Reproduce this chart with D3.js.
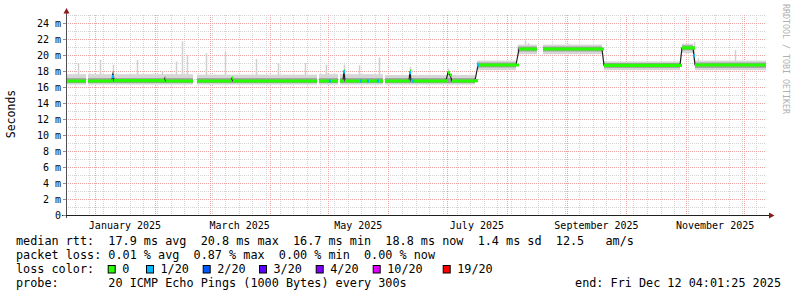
<!DOCTYPE html>
<html><head><meta charset="utf-8">
<script src="https://cdn.jsdelivr.net/npm/d3@7"></script>
<style>
body{margin:0;background:#fff}
svg{display:block}
text{font-family:"DejaVu Sans Mono",monospace;white-space:pre}
</style>
</head><body>
<svg id="c" width="797" height="297"></svg>
<script>
// ---------------- data ----------------
const startTime = "2024-12-17T04:01:25Z";
const endTime   = "2025-12-12T04:01:25Z";
const yTicks = [0,2,4,6,8,10,12,14,16,18,20,22,24];
const yTickLabels = ["0","2 m","4 m","6 m","8 m","10 m","12 m","14 m","16 m","18 m","20 m","22 m","24 m"];
const monthLabels = ["January 2025","March 2025","May 2025","July 2025","September 2025","November 2025"];
const monthLabelMonths = ["2025-01-01","2025-03-01","2025-05-01","2025-07-01","2025-09-01","2025-11-01"];

// median rtt (ms) ; null marks a gap in the data
const medianPts = [
 ["2024-12-17T04:01",16.75],["2024-12-27T11:00",16.75],["2024-12-27T23:00",null],
 ["2024-12-28T11:30",16.75],["2025-01-09T20:00",16.8],["2025-01-10T08:00",17.8],["2025-01-10T20:30",16.8],
 ["2025-02-05T13:00",16.75],["2025-02-06T01:00",17.1],["2025-02-06T13:40",16.75],["2025-02-20T11:30",16.75],
 ["2025-02-21T12:00",null],
 ["2025-02-22T13:00",16.75],["2025-03-11T23:00",16.75],["2025-03-12T13:00",17.1],["2025-03-13T01:00",16.75],
 ["2025-04-25T06:00",16.75],["2025-04-25T18:00",null],
 ["2025-04-26T07:00",16.75],["2025-05-06T01:30",16.75],["2025-05-06T14:00",null],
 ["2025-05-07T02:00",16.75],["2025-05-08T15:00",16.75],["2025-05-09T03:00",18.0],["2025-05-09T15:50",16.75],
 ["2025-05-29T04:45",16.75],["2025-05-29T17:00",null],
 ["2025-05-30T05:30",16.75],["2025-06-11T13:40",16.75],["2025-06-12T02:00",18.0],["2025-06-12T14:20",16.75],
 ["2025-06-30T14:20",16.8],["2025-07-01T15:00",17.8],["2025-07-02T15:50",17.5],["2025-07-03T16:20",16.75],
 ["2025-07-15T12:10",16.8],["2025-07-17T01:30",18.75],["2025-08-05T14:20",18.75],["2025-08-07T03:20",20.75],
 ["2025-08-16T09:30",20.75],["2025-08-17T22:00",null],
 ["2025-08-19T11:30",20.75],["2025-09-18T19:50",20.75],["2025-09-19T20:30",18.7],
 ["2025-10-28T22:30",18.7],["2025-10-29T23:10",20.9],["2025-11-04T15:00",20.9],["2025-11-05T15:50",18.75],
 ["2025-12-12T04:01",18.75]
];

// smoke bands: [start, end, outerLo, outerHi, innerLo, innerHi] (ms)
const smokeBands = [
 ["2024-12-17T04:01","2024-12-27T11:00",16.3,17.6,16.5,17.1],
 ["2024-12-28T11:30","2025-02-20T11:30",16.3,17.6,16.5,17.1],
 ["2025-02-22T13:00","2025-04-25T06:00",16.3,17.55,16.5,17.1],
 ["2025-04-26T07:00","2025-05-06T01:30",16.3,17.6,16.5,17.1],
 ["2025-05-07T02:00","2025-05-29T04:45",16.3,17.6,16.5,17.1],
 ["2025-05-30T05:30","2025-07-15T12:10",16.3,17.5,16.5,17.1],
 ["2025-07-16T12:00","2025-08-05T14:20",18.1,19.3,18.45,19.05],
 ["2025-08-06T12:00","2025-08-16T09:30",20.1,21.3,20.45,21.05],
 ["2025-08-19T11:30","2025-09-18T19:50",20.1,21.3,20.45,21.05],
 ["2025-09-19T20:30","2025-10-28T22:30",18.1,19.2,18.4,19.0],
 ["2025-10-29T23:10","2025-11-04T15:00",20.25,21.4,20.6,21.2],
 ["2025-11-05T15:50","2025-12-12T04:01",18.1,19.3,18.4,19.05]
];

// isolated smoke spikes: [date, base (ms), top (ms)]
const spikes = [
 ["2024-12-23T03:00",17.5,19.0],["2025-01-03T12:00",17.5,19.4],["2025-01-10T08:00",17.5,18.8],["2025-01-22T12:00",17.5,19.4],
 ["2025-02-04T12:00",17.5,18.0],["2025-02-11T12:00",17.5,19.2],["2025-02-14T16:00",17.5,21.7],["2025-02-17T12:00",17.5,20.0],
 ["2025-02-27T00:00",17.5,20.2],["2025-03-09T00:00",17.5,20.4],["2025-03-25T00:00",17.5,19.5],["2025-04-05T00:00",17.5,19.0],
 ["2025-04-19T00:00",17.5,19.0],["2025-04-30T00:00",17.5,18.8],["2025-05-09T03:00",17.5,18.8],["2025-05-17T00:00",17.5,18.7],
 ["2025-05-27T00:00",17.5,19.7],["2025-06-12T02:00",17.5,18.5],["2025-07-01T15:00",17.5,18.3],
 ["2025-08-10T00:00",21.2,21.8],["2025-08-12T00:00",21.2,21.5],["2025-09-02T00:00",21.2,21.4],
 ["2025-11-05T03:00",19.2,21.6],["2025-11-07T00:00",19.2,19.6],["2025-11-26T04:00",19.2,20.6]
];

// packet-loss coloured points: [date, value(ms), loss level index]
const lossPts = [
 ["2025-01-10T08:00",17.3,1],["2025-05-01T21:00",16.75,1],["2025-05-09T03:00",17.9,1],
 ["2025-05-17T21:00",16.75,1],["2025-05-21T11:00",16.75,1],["2025-05-26T16:00",16.75,1],
 ["2025-06-12T02:00",17.8,1],["2025-06-13T16:00",16.75,1],["2025-07-17T01:30",18.75,1],
 ["2025-11-05T03:00",19.9,1]
];

const lossLabels = ["0","1/20","2/20","3/20","4/20","10/20","19/20"];
const lossColors = ["#26ff00","#00b8ff","#0059ff","#5e00ff","#7e00ff","#dd00ff","#ff0000"];

const statsLine1 = "median rtt:  17.9 ms avg  20.8 ms max  16.7 ms min  18.8 ms now  1.4 ms sd  12.5   am/s";
const statsLine2 = "packet loss: 0.01 % avg  0.87 % max  0.00 % min  0.00 % now";
const probeLine  = "probe:       20 ICMP Echo Pings (1000 Bytes) every 300s";
const endLine    = "end: Fri Dec 12 04:01:25 2025";

// ---------------- drawing ----------------
const P = s => new Date(s.length <= 10 ? s + "T00:00:00Z" : (s.endsWith("Z") ? s : s + "Z"));
const svg = d3.select("#c");
const X0 = 66, X1 = 766, YB = 215, YT = 15;
const x = d3.scaleUtc().domain([P(startTime), P(endTime)]).range([X0, X1]);
const y = d3.scaleLinear().domain([0, 25]).range([YB, YT]);

// grid
const grid = svg.append("g");
const minorH = d3.range(1, 26).filter(v => v % 2 === 1 || v > 24);
minorH.forEach(v => grid.append("line").attr("x1", X0).attr("x2", X1)
  .attr("y1", y(v) + 0.5).attr("y2", y(v) + 0.5)
  .attr("stroke", "#d2d2d2").attr("stroke-dasharray", "1,1"));
const weeks = d3.utcSunday.range(P(startTime), P(endTime));
weeks.forEach(d => grid.append("line").attr("x1", Math.round(x(d)) + 0.5).attr("x2", Math.round(x(d)) + 0.5)
  .attr("y1", YT).attr("y2", YB).attr("stroke", "#d2d2d2").attr("stroke-dasharray", "1,1"));
yTicks.filter(v => v > 0).forEach(v => grid.append("line").attr("x1", X0).attr("x2", X1)
  .attr("y1", y(v) + 0.5).attr("y2", y(v) + 0.5)
  .attr("stroke", "#eaa4a4").attr("stroke-dasharray", "1,1"));
const months = d3.utcMonth.range(P(startTime), P(endTime));
months.forEach(d => grid.append("line").attr("x1", Math.round(x(d)) + 0.5).attr("x2", Math.round(x(d)) + 0.5)
  .attr("y1", YT).attr("y2", YB).attr("stroke", "#eaa4a4").attr("stroke-dasharray", "1,1"));

// smoke
const sm = svg.append("g");
spikes.forEach(s => {
  const xs = Math.round(x(P(s[0])));
  sm.append("rect").attr("x", xs - 0.25).attr("width", 1.5).attr("y", y(s[2])).attr("height", y(s[1]) - y(s[2]))
    .attr("fill", "#d0d0d0");
});
smokeBands.forEach(b => {
  const xa = x(P(b[0])), xb = x(P(b[1]));
  sm.append("rect").attr("x", xa).attr("width", xb - xa).attr("y", y(b[3])).attr("height", y(b[2]) - y(b[3])).attr("fill", "#d6d6d6");
  sm.append("rect").attr("x", xa).attr("width", xb - xa).attr("y", y(b[5])).attr("height", y(b[4]) - y(b[5])).attr("fill", "#9c9c9c");
});

// median line
const med = medianPts.map(d => ({t: P(d[0]), v: d[1]}));
const line = d3.line().defined(d => d.v != null).x(d => x(d.t)).y(d => y(d.v));
svg.append("path").attr("d", line(med)).attr("fill", "none").attr("stroke", "#202020").attr("stroke-width", 1.2);
const band = d3.area().defined(d => d.v != null).curve(d3.curveStepAfter)
  .x(d => x(d.t)).y0(d => y(d.v) + 1.6).y1(d => y(d.v) - 1.6);
svg.append("path").attr("d", band(med)).attr("fill", lossColors[0]);
lossPts.forEach(p => svg.append("rect").attr("x", x(P(p[0])) - 1).attr("width", 2)
  .attr("y", y(p[1]) - 1.6).attr("height", 3.2).attr("fill", lossColors[p[2]]));

// axes
const ax = svg.append("g");
ax.append("line").attr("x1", X0 + 0.5).attr("x2", X0 + 0.5).attr("y1", YB + 3).attr("y2", 11).attr("stroke", "#505050");
ax.append("path").attr("d", `M${X0 - 2.5},13.5 L${X0 + 3.5},13.5 L${X0 + 0.5},8 Z`).attr("fill", "#8b1a1a");
ax.append("line").attr("x1", X0 - 4).attr("x2", 770).attr("y1", YB + 0.5).attr("y2", YB + 0.5).attr("stroke", "#202020");
ax.append("path").attr("d", `M769,${YB - 2.5} L769,${YB + 3.5} L774.5,${YB + 0.5} Z`).attr("fill", "#8b1a1a");
yTicks.forEach((v, i) => {
  ax.append("line").attr("x1", X0 - 3).attr("x2", X0).attr("y1", y(v) + 0.5).attr("y2", y(v) + 0.5).attr("stroke", "#909090");
  ax.append("text").attr("x", 61).attr("y", y(v) + 3.8).attr("text-anchor", "end")
    .attr("font-size", "10px").attr("fill", "#000").text(yTickLabels[i]);
});
monthLabelMonths.forEach((m, i) => {
  const a = P(m), b = d3.utcMonth.offset(a, 1);
  ax.append("text").attr("x", (x(a) + x(b)) / 2).attr("y", 228.5).attr("text-anchor", "middle")
    .attr("font-size", "10px").attr("fill", "#000").text(monthLabels[i]);
});
svg.append("text").attr("transform", "translate(15,114) rotate(-90)").attr("text-anchor", "middle")
  .attr("font-size", "11.5px").attr("fill", "#000").text("Seconds");
svg.append("text").attr("transform", "translate(783,4) rotate(90)").attr("text-anchor", "start")
  .attr("font-size", "8.3px").attr("fill", "#b0b0b0").text("RRDTOOL / TOBI OETIKER");

// legend
const lg = svg.append("g").attr("font-size", "11.8px").attr("fill", "#000");
lg.append("text").attr("x", 16).attr("y", 244.5).text(statsLine1);
lg.append("text").attr("x", 16).attr("y", 258.8).text(statsLine2);
lg.append("text").attr("x", 16).attr("y", 273.1).text("loss color:");
const boxX = [107.7, 146, 202.7, 259, 315.7, 372.7, 442.7];
lossLabels.forEach((l, i) => {
  lg.append("rect").attr("x", boxX[i] + 0.5).attr("y", 265.5).attr("width", 7).attr("height", 7.5)
    .attr("fill", lossColors[i]).attr("stroke", "#000").attr("stroke-width", 1);
  lg.append("text").attr("x", boxX[i] + 14.5).attr("y", 273.1).text(l);
});
lg.append("text").attr("x", 16).attr("y", 287.4).text(probeLine);
lg.append("text").attr("x", 781).attr("y", 287.4).attr("text-anchor", "end").text(endLine);
</script>
</body></html>
